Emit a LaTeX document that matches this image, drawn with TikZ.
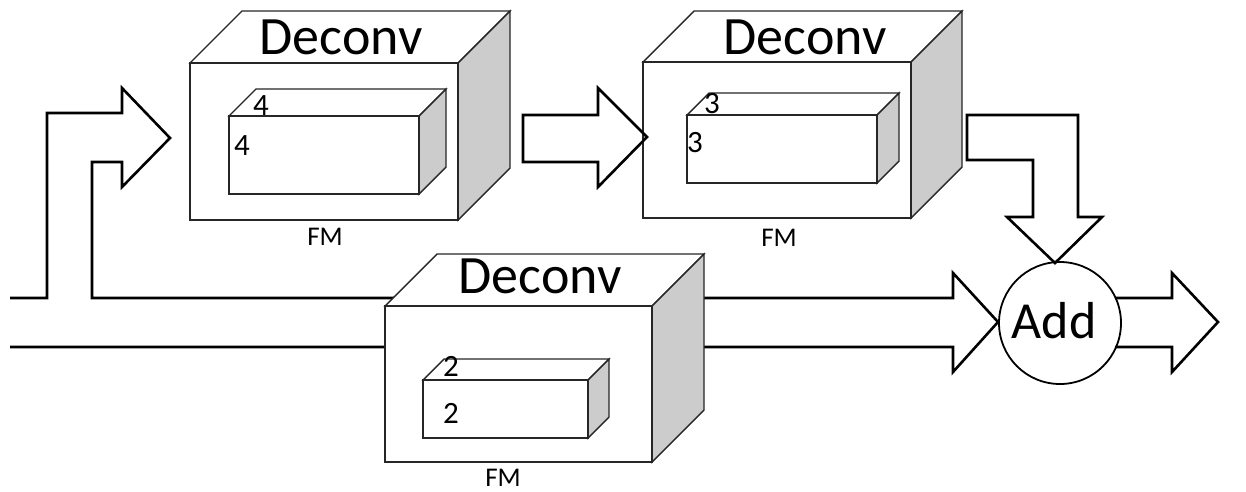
\documentclass[tikz,border=0pt]{standalone}
\usepackage{fontspec}
\setmainfont{Carlito}
\usepackage{tikz}
\usetikzlibrary{arrows}

\definecolor{sidegray}{RGB}{204,204,204}
\tikzset{
  fatarrow/.style={line width=2.6pt,line join=miter},
  cubeedge/.style={line width=1.4pt,line join=miter,draw=black!85},
  bigtext/.style={font=\fontsize{54}{60}\selectfont,anchor=base,inner sep=0pt},
  smalltext/.style={font=\fontsize{27}{30}\selectfont,anchor=base,inner sep=0pt},
  digit/.style={font=\fontsize{31}{34}\selectfont,anchor=base,inner sep=0pt}
}

% front top-left corner (#1,#2), width #3, height #4, depth #5
\newcommand{\fmcube}[5]{%
  \draw[cubeedge,fill=white] (#1,#2) -- ++(#5,-#5) -- ++(#3,0) -- ++(-#5,#5) -- cycle;
  \draw[cubeedge,fill=sidegray] (#1+#3,#2) -- ++(#5,-#5) -- ++(0,#4) -- ++(-#5,#5) -- cycle;
  \draw[cubeedge,fill=white] (#1,#2) rectangle ++(#3,#4);
}

\begin{document}
\begin{tikzpicture}[x=1pt,y=-1pt]
\useasboundingbox (0,0) rectangle (1246,491);
% input band: splits up to the first deconv, runs on under the third one
\draw [fatarrow] (10,298) -- (47,298) -- (47,113) -- (122,113) -- (122,88) -- (170,138)
  -- (122,187) -- (122,162) -- (92,162) -- (92,298) -- (953,298) -- (953,273)
  -- (998,322) -- (953,372) -- (953,347) -- (10,347);
% deconv blocks with their feature maps
\fmcube{190}{63}{268}{157}{52}
\fmcube{229}{116}{190}{78}{27}
\fmcube{643}{62}{268}{156}{51}
\fmcube{687}{115}{190}{68}{22}
\fmcube{385}{306}{267}{156}{52}
\fmcube{423}{380}{165}{58}{21}
\draw (341,54) node[bigtext] (d1) {Deconv};
\draw (805,54) node[bigtext] (d2) {Deconv};
\draw (540,293) node[bigtext] (d3) {Deconv};
\draw (325,245) node[smalltext] (fm1) {FM};
\draw (779,246) node[smalltext] (fm2) {FM};
\draw (503,486) node[smalltext] (fm3) {FM};
\draw (261,115) node[digit] (k1a) {4};
\draw (242,155) node[digit] (k1b) {4};
\draw (712,113) node[digit] (k2a) {3};
\draw (695,152) node[digit] (k2b) {3};
\draw (451,376) node[digit] (k3a) {2};
\draw (451,423) node[digit] (k3b) {2};
% sum node
\draw (1060,323) node[circle,draw,line width=1.8pt,fill=white,minimum size=122pt,inner sep=0pt] (add) {};
\draw (1054,338) node[bigtext,font=\fontsize{52}{58}\selectfont] (addtxt) {Add};
% remaining arrows
\draw [fatarrow] (523,115) -- (598,115) -- (598,88) -- (647,137) -- (598,187) -- (598,162) -- (523,162) -- cycle;
\draw [fatarrow] (967,115) -- (1078,115) -- (1078,217) -- (1102,217) -- (1055,263) -- (1007,217)
  -- (1033,217) -- (1033,160) -- (967,160) -- cycle;
\draw [fatarrow] (1115,298) -- (1172,298) -- (1172,273) -- (1218,322) -- (1172,372) -- (1172,347) -- (1115,347);
\end{tikzpicture}
\end{document}
